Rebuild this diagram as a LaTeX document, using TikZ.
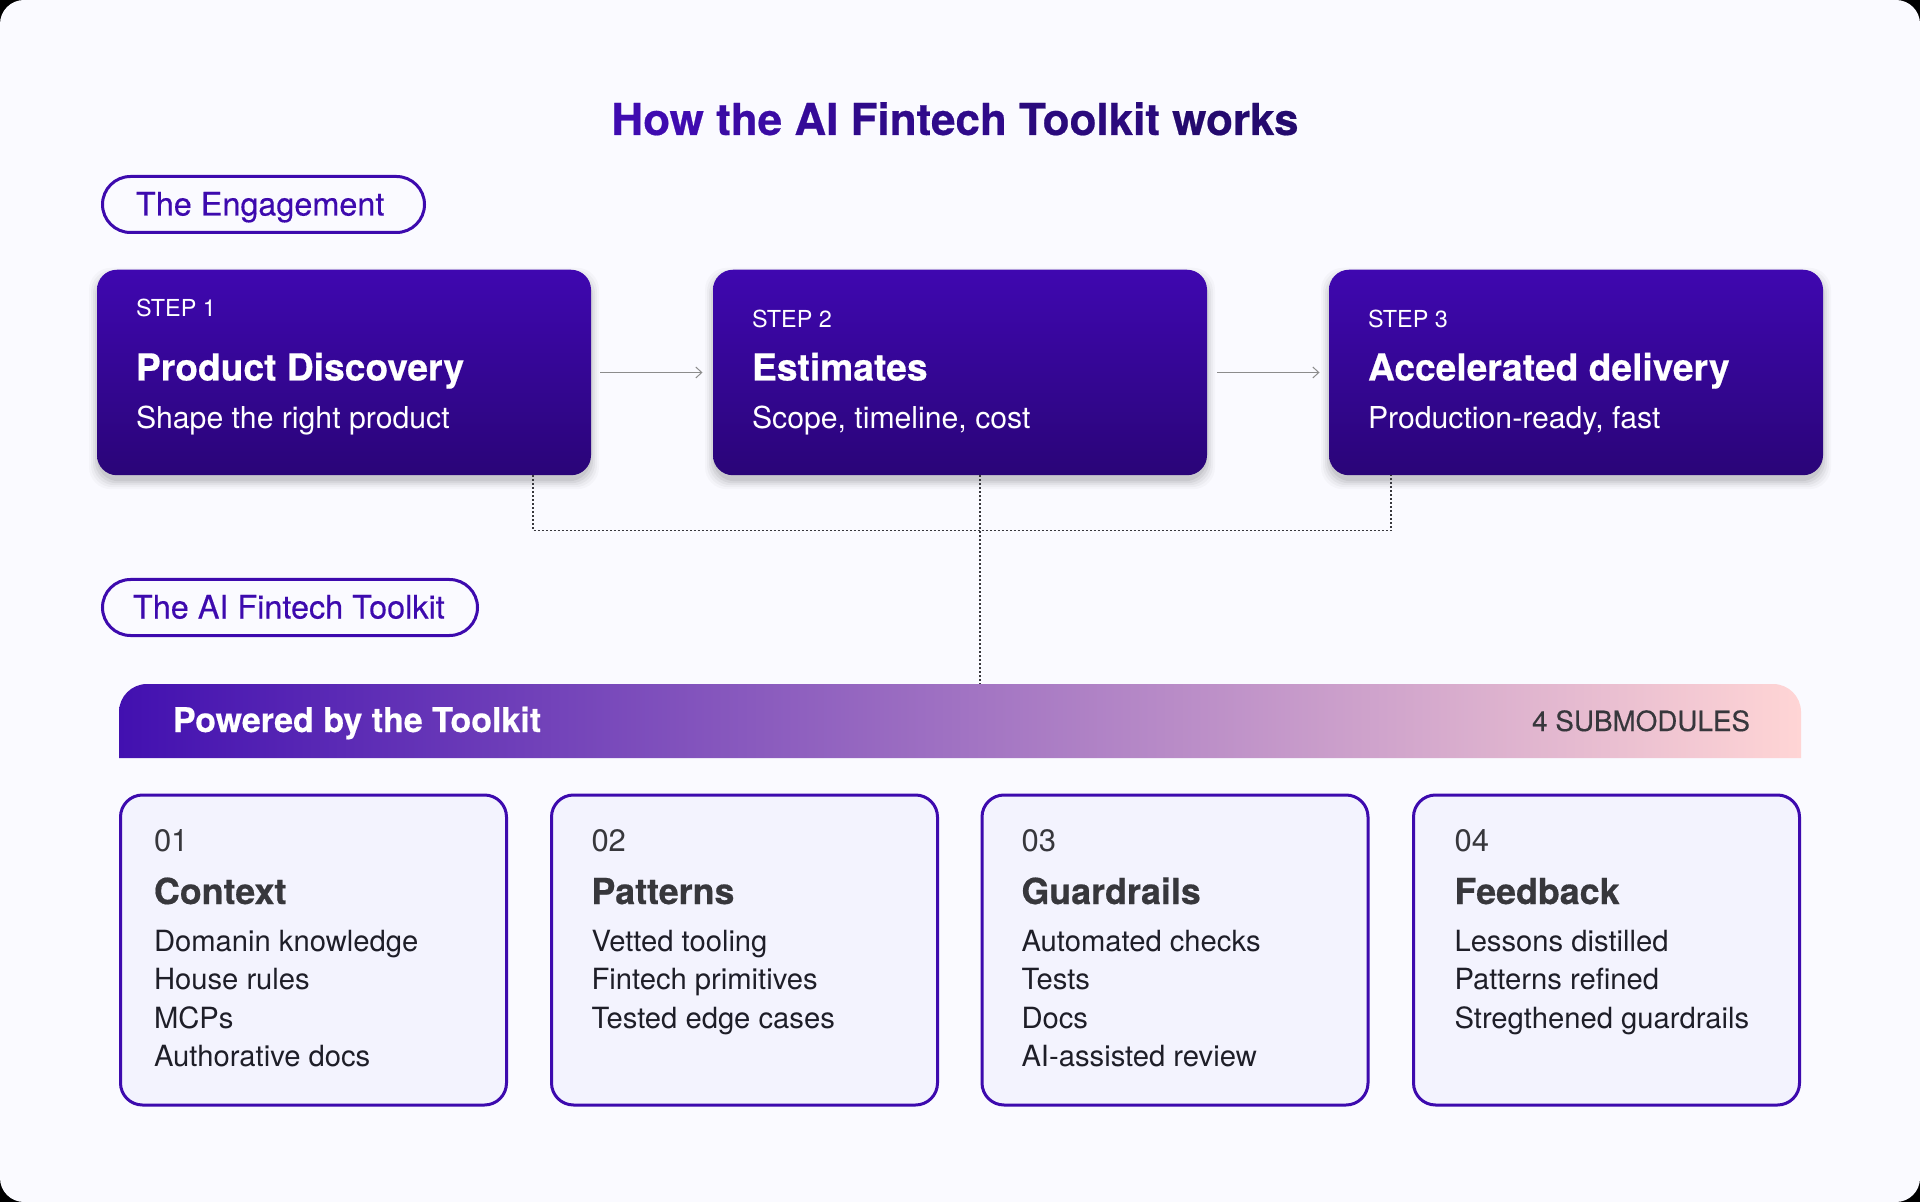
\documentclass[tikz,border=0pt]{standalone}
\usepackage{fontspec}
\setmainfont{TeX Gyre Heros}[BoldFeatures={FakeBold=0.5}]
\usetikzlibrary{arrows.meta,calc}
\definecolor{panel}{HTML}{FAFAFF}
\definecolor{brand}{HTML}{3D0AAE}
\definecolor{brandtop}{HTML}{3F07B0}
\definecolor{brandbot}{HTML}{2A0578}
\definecolor{cardfill}{HTML}{F3F3FE}
\definecolor{ink}{HTML}{37373C}
\definecolor{inktwo}{HTML}{1E1E28}
\definecolor{pinkend}{HTML}{FFD5D5}
\definecolor{barstart}{HTML}{4210B0}
\definecolor{tA}{HTML}{3F0BB0}
\definecolor{tB}{HTML}{3A0BA4}
\definecolor{tC}{HTML}{350A98}
\definecolor{tD}{HTML}{2F0A8A}
\definecolor{tE}{HTML}{2A0A7C}
\definecolor{tF}{HTML}{240A6E}
\tikzset{
  x=0.5pt,y=-0.5pt,
  every node/.style={inner sep=0pt,outer sep=0pt},
  stepbox/.style={rectangle,rounded corners=10pt,top color=brandtop,bottom color=brandbot,minimum width=247pt,minimum height=102.75pt},
  pill/.style={rectangle,rounded corners=14pt,draw=brand,line width=1.5pt,fill=panel,minimum height=28pt},
  card/.style={rectangle,rounded corners=11pt,draw=brand,line width=1.5pt,fill=cardfill,minimum width=193pt,minimum height=155pt},
  txt/.style={anchor=base west},
  titletxt/.style={anchor=base,font=\fontsize{22}{26}\bfseries},
  pilltxt/.style={txt,text=brand,font=\fontsize{16.2}{18}\selectfont\addfontfeatures{FakeBold=0.25}},
  steplabel/.style={txt,text=white,font=\fontsize{11.7}{14}\selectfont},
  steptitle/.style={txt,text=white,font=\fontsize{18.6}{20}\bfseries},
  stepsub/.style={txt,text=white,font=\fontsize{15.1}{17}\selectfont},
  cardnum/.style={txt,text=ink,font=\fontsize{15.5}{17}\selectfont},
  cardtitle/.style={txt,text=ink,font=\fontsize{17.9}{20}\bfseries},
  carditem/.style={txt,text=inktwo,font=\fontsize{14.6}{17}\selectfont},
  flow/.style={draw=black!45,line width=0.5pt,-{Straight Barb[length=3pt,width=5.5pt]}},
  dots/.style={draw=ink,line width=0.6pt,dash pattern=on 1pt off 1pt},
}
\newcommand{\softshadow}[1]{%
  \foreach \g/\o in {8/0.025,6/0.03,4/0.04,2/0.05,0/0.06}{
    \fill[black,opacity=\o,rounded corners=11pt]
      ($(#1.north west)+(-\g,6-\g)$) rectangle ($(#1.south east)+(\g,6+\g)$);
  }%
}
\begin{document}
\begin{tikzpicture}
\useasboundingbox (0,0) rectangle (1920,1202);
\fill[black] (0,0) rectangle (1920,1202);
\fill[panel,rounded corners=12pt] (0,0) rectangle (1920,1202);

\node[titletxt] (title) at (955,135) {\textcolor{tA}{How} \textcolor{tB}{the} \textcolor{tC}{AI} \textcolor{tD}{Fintech} \textcolor{tE}{Toolkit} \textcolor{tF}{works}};

\node[pill,minimum width=161pt] (pillA) at (263.5,204.5) {};
\node[pilltxt] (pillAtxt) at (136,215.5) {The Engagement};

\coordinate (shA) at (344,372.5);
\coordinate (shB) at (960,372.5);
\coordinate (shC) at (1576,372.5);
\path (shA) node[minimum width=247pt,minimum height=102.75pt] (pA) {};
\path (shB) node[minimum width=247pt,minimum height=102.75pt] (pB) {};
\path (shC) node[minimum width=247pt,minimum height=102.75pt] (pC) {};
\softshadow{pA}\softshadow{pB}\softshadow{pC}

\node[stepbox] (step1) at (shA) {};
\node[stepbox] (step2) at (shB) {};
\node[stepbox] (step3) at (shC) {};

\node[steplabel] (s1l) at (136,316.5) {STEP 1};
\node[steptitle] (s1t) at (136,380.5) {Product Discovery};
\node[stepsub] (s1s) at (136,428.5) {Shape the right product};
\node[steplabel] (s2l) at (752,327.5) {STEP 2};
\node[steptitle] (s2t) at (752,380.5) {Estimates};
\node[stepsub] (s2s) at (752,428.5) {Scope, timeline, cost};
\node[steplabel] (s3l) at (1368,327.5) {STEP 3};
\node[steptitle] (s3t) at (1368,380.5) {Accelerated delivery};
\node[stepsub] (s3s) at (1368,428.5) {Production-ready, fast};

\draw[flow] ($(step1.east)+(9,0)$) -- ($(step2.west)+(-10.5,0)$);
\draw[flow] ($(step2.east)+(10,0)$) -- ($(step3.west)+(-9.5,0)$);

\node[pill,minimum width=187.5pt] (pillB) at (290,607.5) {};
\node[pilltxt] (pillBtxt) at (133,618.5) {The AI Fintech Toolkit};

\path[left color=barstart,right color=pinkend]
  (119,758) [rounded corners=14pt] -- (119,684) -- (1801,684) [sharp corners] -- (1801,758) -- cycle;
\node[minimum width=841pt,minimum height=37pt] (bar) at (960,721) {};
\node[txt,text=white,font=\fontsize{17}{20}\bfseries] (bart) at (173,732) {Powered by the Toolkit};
\node[anchor=base east,text=ink,font=\fontsize{13.9}{17}\selectfont\addfontfeatures{FakeBold=0.2}] (barn) at (1750,731) {4 SUBMODULES};

\coordinate (hub) at (980,530.5);
\coordinate (tapA) at (533,530.5);
\coordinate (tapC) at (1391,530.5);
\draw[dots] (step1.south -| tapA) -- (tapA) -- (tapC) -- (step3.south -| tapC);
\draw[dots] (step2.south -| hub) -- (hub) -- (bar.north -| hub);

\node[card] (c1) at (313.5,950) {};
\node[card] (c2) at (744.5,950) {};
\node[card] (c3) at (1175,950) {};
\node[card] (c4) at (1606.5,950) {};

\node[cardnum] (c1n) at (154,851) {01};
\node[cardtitle] (c1t) at (154,904) {Context};
\node[carditem] (c1a) at (154,951) {Domanin knowledge};
\node[carditem] (c1b) at (154,989.5) {House rules};
\node[carditem] (c1c) at (154,1028) {MCPs};
\node[carditem] (c1d) at (154,1066.5) {Authorative docs};

\node[cardnum] (c2n) at (591.5,851) {02};
\node[cardtitle] (c2t) at (591.5,904) {Patterns};
\node[carditem] (c2a) at (591.5,951) {Vetted tooling};
\node[carditem] (c2b) at (591.5,989.5) {Fintech primitives};
\node[carditem] (c2c) at (591.5,1028) {Tested edge cases};

\node[cardnum] (c3n) at (1021.5,851) {03};
\node[cardtitle] (c3t) at (1021.5,904) {Guardrails};
\node[carditem] (c3a) at (1021.5,951) {Automated checks};
\node[carditem] (c3b) at (1021.5,989.5) {Tests};
\node[carditem] (c3c) at (1021.5,1028) {Docs};
\node[carditem] (c3d) at (1021.5,1066.5) {AI-assisted review};

\node[cardnum] (c4n) at (1454.5,851) {04};
\node[cardtitle] (c4t) at (1454.5,904) {Feedback};
\node[carditem] (c4a) at (1454.5,951) {Lessons distilled};
\node[carditem] (c4b) at (1454.5,989.5) {Patterns refined};
\node[carditem] (c4c) at (1454.5,1028) {Stregthened guardrails};
\end{tikzpicture}
\end{document}
